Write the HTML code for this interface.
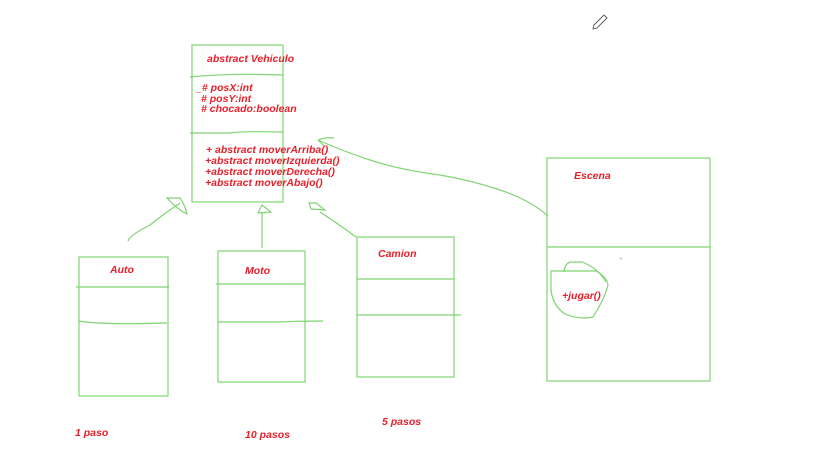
<!DOCTYPE html>
<html><head><meta charset="utf-8"><style>
html,body{margin:0;padding:0;background:#fff;}
svg{display:block}
text{font-family:"Liberation Sans",sans-serif;font-style:italic;font-weight:bold;fill:#e8202a;font-size:10.5px}
</style></head><body>
<svg width="826" height="474" viewBox="0 0 826 474" xmlns="http://www.w3.org/2000/svg">
<g fill="none" stroke="#7fd472" stroke-width="1.2">
<rect x="192" y="45" width="91" height="157"/>
<path d="M190 77 Q230 73 283 75"/>
<path d="M190 133 L230 133 Q240 131 283 132"/>
<rect x="79" y="257" width="89" height="139"/>
<path d="M76 287 L169 287"/>
<path d="M79 321 Q100 325 167 323"/>
<rect x="218" y="251" width="87" height="131"/>
<path d="M216 284 L305 284"/>
<path d="M218 322 L280 322 Q300 321 323 321"/>
<rect x="357" y="237" width="97" height="140"/>
<path d="M357 279 L454 279"/>
<path d="M357 315 L461 315"/>
<rect x="547" y="158" width="163" height="223"/>
<path d="M547 247 L710 247"/>
<path d="M128 241 Q130 235 150 225 Q165 213 180 203"/>
<path d="M167 198 L180 198 Q185 205 187 214 Q178 210 167 198 Z"/>
<path d="M262 248 L262 212"/>
<path d="M258 213 L262 205 L271 212 Z"/>
<path d="M356 237 Q340 225 320 212"/>
<path d="M309 203 L316 203 L325 210 L311 209 Z"/>
<path d="M548 216 Q530 200 500 190 Q470 180 440 175 Q400 170 370 160 Q340 150 318 140"/>
<path d="M318 140 Q325 137 334 138 M318 140 L324 146"/>
<path d="M551 271 L596 271 Q607 277 608 285 Q604 300 593 317 Q580 320 565 314 Q553 306 551 290 Z"/>
<path d="M564 272 Q565 262 572 262 L582 262 Q598 268 606 282"/>
<path d="M620 258 L622 259"/>
</g>
<path d="M594 25 L604 15 L607 18 L597 28 L593 29 Z" fill="none" stroke="#555" stroke-width="0.9"/>
<text x="207" y="62">abstract Vehiculo</text>
<text x="196" y="91">_# posX:int</text>
<text x="201" y="102"># posY:int</text>
<text x="201" y="112"># chocado:boolean</text>
<text x="206" y="153">+ abstract moverArriba()</text>
<text x="205" y="164">+abstract moverIzquierda()</text>
<text x="205" y="175">+abstract moverDerecha()</text>
<text x="205" y="186">+abstract moverAbajo()</text>
<text x="110" y="273">Auto</text>
<text x="245" y="274">Moto</text>
<text x="378" y="257">Camion</text>
<text x="574" y="179">Escena</text>
<text x="562" y="299">+jugar()</text>
<text x="75" y="436">1 paso</text>
<text x="245" y="438">10 pasos</text>
<text x="382" y="425">5 pasos</text>
</svg>
</body></html>
